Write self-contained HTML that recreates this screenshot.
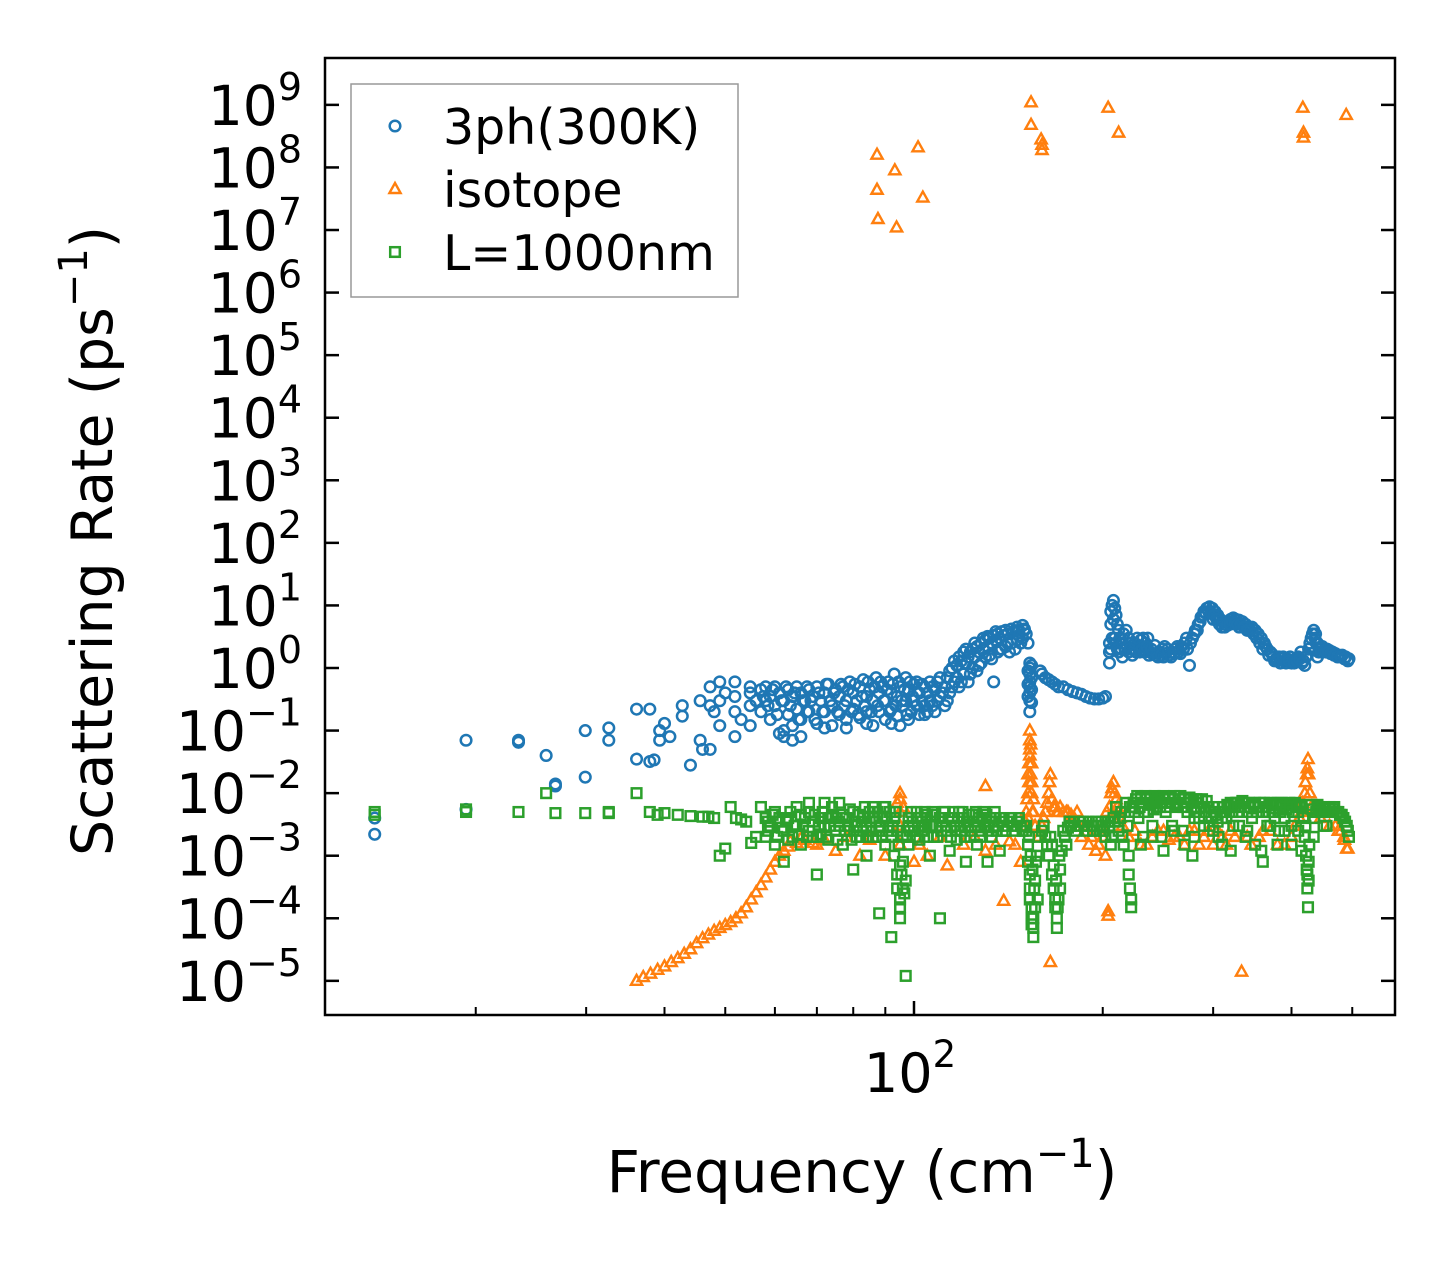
<!DOCTYPE html>
<html><head><meta charset="utf-8"><style>
html,body{margin:0;padding:0;background:#fff;}
svg{display:block;font-family:"DejaVu Sans","Liberation Sans",sans-serif;}
</style></head><body>
<svg id="chart" width="1455" height="1265" viewBox="0 0 1455 1265" xmlns="http://www.w3.org/2000/svg">
<rect width="1455" height="1265" fill="#fff"/>
<g id="marks"></g>
<g id="axes"></g>
<g id="legend"></g>
</svg>
<script>
const yTickExps = [9,8,7,6,5,4,3,2,1,0,-1,-2,-3,-4,-5];
const xMajorTicks = [100];
const xMinorTicks = [20,30,40,50,60,70,80,90,200,300,400,500];
const seriesNames = ["3ph(300K)","isotope","L=1000nm"];
const seriesColors = ["#1f77b4","#ff7f0e","#2ca02c"];

const pts3ph = [[13.8,4e-3],[13.8,2.2e-3],[19.3,7e-2],[19.3,5.5e-3],[23.4,6.5e-2],[23.4,7e-2],[25.9,4e-2],[26.8,1.4e-2],[26.8,1.3e-2],[29.9,0.1],[29.9,1.8e-2],[32.6,0.07],[32.6,0.11],[36.1,3.5e-2],[36.1,0.22],[37.9,3.2e-2],[37.9,0.22],[38.5,3.4e-2],[39.3,0.1],[39.3,0.07],[40,0.13],[40.8,0.08],[42.7,0.17],[42.7,0.25],[44,2.8e-2],[45.6,0.07],[45.6,0.3],[46,0.05],[47.3,0.5],[47.3,0.25],[47.3,0.05],[48,0.2],[49,0.6],[49,0.3],[49,0.12],[50,0.4],[51.8,0.6],[51.8,0.2],[51.8,0.08],[51.8,0.35],[53,0.15],[54.8,0.4],[54.8,0.5],[54.8,0.12],[54.8,0.25],[56,0.3],
[57,0.45],[57,0.2],[58,0.5],[58,0.3],[59,0.35],[59,0.15],[60,0.5],[60,0.25],[61,0.4],[61,0.09],[62,0.3],[62,0.08],[63,0.45],[63,0.18],[64,0.35],[64,0.12],[64,0.07],[65,0.5],[65,0.22],[66,0.4],[66,0.15],[66,0.08],[67,0.3],[68,0.45],[68,0.2],[69,0.35],[70,0.5],[70,0.13],[71,0.3],[72,0.4],[72,0.2],[73,0.55],[74,0.25],[74,0.12],[75,0.45],[76,0.35],[76,0.18],[77,0.5],[78,0.3],[78,0.15],[79,0.6],[80,0.4],[80,0.22],[81,0.3],[82,0.5],[82,0.16],[83,0.65],[84,0.35],[84,0.2],[85,0.45],[86,0.3],[86,0.12],[87,0.7],[88,0.4],[88,0.2],[89,0.5],[90,0.3],[90,0.15],[91,0.6],[92,0.4],[92,0.22],[93,0.8],[94,0.35],[94,0.17],[95,0.5],[95,0.12],[96,0.25],[97,0.7],[97,0.3],[98,0.45],[99,0.2],[100,0.55],[100,0.3],[102,0.4],[102,0.18],[104,0.5],[104,0.25],[106,0.6],[106,0.3],[108,0.45],[108,0.2],[110,0.7],[110,0.35],[112,0.5],[112,0.25],[114,0.9],[114,0.4],[116,1.3],[116,0.6],[118,1.5],[118,0.5],[120,1.8],[120,0.8],[122,1.5],[122,0.6],[124,2],[124,1],[126,2.2],[126,0.9],[128,2.5],[128,1.2],[130,2.8],[130,1.5],[132,3],[132,1.6],[134,3.3],[134,0.6],[136,3.5],[136,1.8],[138,3.8],[138,2],[140,4],[140,2.2],[143,4.2],[143,2.5],[146,4.5],[146,2.8],[149,4.8],[149,3],[151,3.5],[152,2.5],
[153,1.2],[153,1],[153,0.8],[153,0.6],[153,0.5],[153,0.4],[153,0.3],[153,0.2],[154,1.1],[154,0.7],[154,0.45],[154,0.28],[152,0.9],[152,0.55],[152,0.35],
[159,0.9],[160,0.8],[162,0.7],[164,0.65],[166,0.6],[168,0.55],[170,0.5],[173,0.5],[176,0.45],[179,0.42],[182,0.4],[185,0.38],[188,0.35],[191,0.33],[194,0.32],[197,0.32],[200,0.33],[202,0.35],
[205,1.8],[205,1.2],[205,2.5],[206,5],[206,8],[207,10],[208,12],[209,9],[210,7],[211,5],[212,4],[213,3],[214,2],[215,1.5],[216,3.5],[218,4],[220,3],[220,1.8],[222,2.5],[224,2],[226,1.8],[228,2.2],[230,2.8],[232,3],[234,2.5],[236,2],[236,3],[238,1.8],[240,1.7],[243,1.6],[246,1.8],[249,2],[250,1.5],[252,1.7],[255,1.6],[258,1.8],[261,2],[264,1.8],[267,2.2],[270,2.5],[273,2],[275,1.1],[278,3],[281,4],[284,5],[287,6.5],[290,8],[293,9],[296,9.5],[299,9],[300,6],[302,8],[305,7],[308,6],[311,5.5],[314,5],[317,5.5],[320,6],[323,6.3],[326,6],[330,5.8],[330,4.5],[334,5.5],[338,5],[342,4.5],[346,4.5],[350,4],[354,3.5],[358,3],[360,2],[362,2.5],[366,2],[370,1.8],[374,1.5],[378,1.4],[382,1.5],[386,1.4],[390,1.3],[394,1.4],[398,1.5],[400,1.2],[402,1.3],[406,1.4],[410,1.5],[414,1.8],[418,1.3],[420,1.1],[422,1.5],[426,2],[430,3],[434,4],[437,3.5],[440,2.5],[440,1.5],[444,2],[448,2.2],[452,2],[456,2],[460,1.9],[465,1.8],[470,1.7],[476,1.6],[482,1.6],[488,1.5],[494,1.4]];

const pts3phDense = [[57.5,0.35],[58.5,0.25],[59.5,0.45],[60.5,0.18],[61.5,0.3],[62.5,0.5],[63.5,0.25],[64.5,0.4],[65.5,0.15],[66.5,0.3],[67.5,0.5],[67.5,0.2],[68.5,0.3],[69.5,0.15],[70.5,0.4],[71.5,0.2],[72.5,0.55],[73.5,0.3],[74.5,0.4],[75.5,0.2],[76.5,0.55],[77.5,0.25],[78.5,0.45],[79.5,0.2],[80.5,0.55],[81.5,0.18],[82.5,0.35],[83.5,0.25],[84.5,0.6],[85.5,0.2],[86.5,0.5],[87.5,0.25],[88.5,0.6],[89.5,0.3],[90.5,0.45],[91.5,0.2],[92.5,0.55],[93.5,0.25],[94.5,0.6],[95.5,0.3],[96.5,0.45],[97.5,0.18],[98.5,0.6],[99.5,0.35],[101,0.25],[101,0.6],[103,0.3],[103,0.55],[105,0.4],[105,0.2],[107,0.5],[107,0.25],[109,0.6],[109,0.3],[111,0.4],[113,0.7],[113,0.3],[115,1],[115,0.5],[117,1.1],[117,0.7],[119,1.3],[119,0.6],[121,1.2],[121,2],[123,1.8],[123,0.8],[125,1.5],[125,2.5],[127,1.8],[127,1.1],[129,2],[129,3],[131,2.2],[131,3.2],[133,2.5],[133,1.4],[135,2.8],[135,3.8],[137,3],[137,2],[139,3.3],[141,3.5],[141,2.5],[144,3.8],[147,4],[147,3.3],[150,4.2],[150,4],[148,2.5],[145,2],[142,1.8],
[62,0.1],[72,0.11],[78,0.11],[84,0.13],[92,0.13],[98,0.15],[104,0.18],
[206,2],[207,3],[208,6],[209,3],[210,2.5],[211,2],[212,1.8],[215,2.5],[217,2],[219,2.2],[221,2],[223,1.6],[225,2.5],[227,3],[229,1.8],[231,2],[233,1.8],[235,2.2],[237,1.6],[239,2],[242,2.3],[245,1.5],[248,1.6],[251,2.2],[254,2],[257,1.5],[260,1.7],[263,2.2],[266,1.7],[269,2],[272,3],[276,2.5],[280,3.5],[283,4],[286,5.5],[289,7],[292,7.5],[295,8],[298,7.5],[301,7],[304,6],[307,5],[310,4.5],[313,4.5],[316,4.8],[319,5],[322,5.5],[325,5.2],[328,5],[332,5],[336,4.5],[340,4],[344,4],[348,3.5],[352,3],[356,2.5],[364,2.2],[368,1.6],[372,1.7],[376,1.3],[380,1.3],[384,1.2],[388,1.5],[392,1.2],[396,1.3],[404,1.2],[408,1.3],[412,1.4],[416,1.2],[424,1.6],[428,2.5],[432,3.5],[436,3],[438,2.5],[442,1.8],[446,1.8],[450,1.9],[454,1.8],[458,1.8],[462,1.7],[468,1.6],[474,1.5],[480,1.5],[486,1.4],[492,1.3]];

const ptsIso = [[87.3,1.6e8],[87.3,4.4e7],[87.6,1.5e7],[93.2,9e7],[93.8,1.1e7],[101.5,2.1e8],[103.3,3.3e7],[153.7,1.1e9],[153.7,4.8e8],[159.5,2.8e8],[160,1.9e8],[160,2.3e8],[204,9e8],[212,3.6e8],[417,9e8],[418,3.6e8],[418,3e8],[489,6.9e8],
[36.1,1e-5],[37,1.15e-5],[38,1.3e-5],[39,1.5e-5],[40,1.7e-5],[41,2e-5],[42,2.3e-5],[43,2.7e-5],[44,3.2e-5],[45,4e-5],[46,4.8e-5],[47,5.5e-5],[48,6.3e-5],[49,7e-5],[50,7.8e-5],[51,8.7e-5],[52,1e-4],[53,1.2e-4],[54,1.5e-4],[55,2e-4],[56,2.6e-4],[57,3.4e-4],[58,4.5e-4],[59,6e-4],[60,8e-4],[61,1e-3],[62,1.2e-3],[63,1.4e-3],[65,1.6e-3],[67,1.8e-3],
[70,1.5e-3],[75,1.2e-3],[82,1e-3],[90,1e-3],[95,3e-3],[95,5e-3],[95,8e-3],[95,1e-2],[100,8e-4],[105,1e-3],[113,7e-4],[120,1.5e-3],[130,1.2e-3],[130,1.3e-2],[139,1.9e-4],[145,1.5e-3],[148,8e-4],
[150,3e-3],[151,5e-3],[152,1e-2],[152,2e-2],[153,4e-2],[153,7e-2],[153,0.1],[154,3e-2],[154,1.5e-2],[155,8e-3],[155,5e-3],[156,3e-3],[158,2e-3],[160,3e-3],[162,5e-3],[164,1e-2],[165,2e-2],[165,2e-5],[166,8e-3],[168,6e-3],[170,5e-3],[173,5e-3],[176,5e-3],[180,4e-3],[185,2e-3],[190,1.5e-3],[195,1.2e-3],[200,2e-3],[203,5e-3],[204,1.3e-4],[204,1.1e-4],[206,1e-2],[208,1.5e-2],[210,8e-3],[212,5e-3],[215,3e-3],[220,2e-3],[230,1.5e-3],[240,2e-3],[250,2.5e-3],[260,2e-3],[270,1.5e-3],[280,2.5e-3],[290,2e-3],[300,1.5e-3],[310,2e-3],[320,2.5e-3],[333,1.4e-5],[340,2e-3],[360,2.5e-3],[380,1.5e-3],[400,2e-3],[415,5e-3],[420,1e-2],[423,2e-2],[425,3.5e-2],[428,1e-2],[440,5e-3],[460,3e-3],[475,2.5e-3],[485,2e-3],[490,1.3e-3]];

const ptsIsoDense = [[151.5,8e-3],[152.5,1.5e-2],[152.5,3e-2],[153,5e-2],[153.5,2e-2],[153.5,6e-2],[154,1e-2],[154.5,5e-3],[152,4e-3],[150.5,3.5e-3],[161,4e-3],[163,7e-3],[164.5,1.5e-2],[167,6e-3],[169,5e-3],[171,6e-3],[175,5e-3],[178,4.5e-3],[182,5e-3],[187,3e-3],[192,2e-3],[197,1.5e-3],[200,3e-3],[202,1e-3],[205,6e-3],[207,1.2e-2],[209,1e-2],[211,6e-3],[213,4e-3],[225,2.5e-3],[235,1.5e-3],[245,2.5e-3],[255,1.8e-3],[265,2e-3],[275,2.5e-3],[285,1.5e-3],[295,2.5e-3],[305,2.5e-3],[315,1.5e-3],[325,2e-3],[345,1.5e-3],[355,2e-3],[370,2.5e-3],[390,1.5e-3],[405,3e-3],[412,4e-3],[417,7e-3],[421,1.5e-2],[424,2.5e-2],[426,2e-2],[430,6e-3],[445,4e-3],[470,3e-3],[480,2.5e-3],[486,1.8e-3],[492,1.3e-3],[63.5,1.7e-3],[66,1.9e-3],[69,1.6e-3],[72,1.8e-3],[78,2e-3],[85,1.8e-3],[95,1.5e-3],[94,7e-3],[96,6e-3],[102,1.5e-3],[110,2e-3],[125,2e-3],[135,1.5e-3],[142,1.7e-3]];

const ptsL = [[13.8,5e-3],[13.8,4.5e-3],[19.3,5.5e-3],[19.3,5e-3],[23.4,5e-3],[25.9,1e-2],[26.8,4.8e-3],[29.9,4.8e-3],[32.6,5e-3],[32.6,4.8e-3],[36.1,1e-2],[37.9,5e-3],[39,4.5e-3],[40,4.8e-3],[42,4.5e-3],[44,4.3e-3],[46,4.2e-3],[47,4.2e-3],[48,4e-3],[49,1e-3],[50,1.3e-3],[51,6e-3],[52,4e-3],[53,3.8e-3],[54,3.5e-3],[55,1.6e-3],[56,2e-3],[57,6e-3],
[58,4e-3],[58,2e-3],[59,3e-3],[60,5e-3],[60,1.5e-3],[61,3.5e-3],[62,2.5e-3],[62,8e-4],[63,4e-3],[64,2e-3],[65,3e-3],[65,6e-3],[66,1.5e-3],[67,4e-3],[68,2.5e-3],[68,7e-3],[69,3.5e-3],[70,2e-3],[70,5e-4],[71,4e-3],[72,3e-3],[72,7e-3],[73,1.8e-3],[74,4.5e-3],[75,2.5e-3],[76,3.5e-3],[76,7e-3],[77,1.5e-3],[78,4e-3],[79,2.5e-3],[80,5e-3],[80,6e-4],[81,3e-3],[82,2e-3],[83,4e-3],[84,3e-3],[84,1e-3],[85,5e-3],[86,2e-3],[86,6e-3],[87,3.5e-3],[88,2.5e-3],[88,1.2e-4],[89,4e-3],[90,1.5e-3],[90,6e-3],[91,3e-3],[92,2e-3],[92,5e-5],[93,4e-3],[93,1e-3],[94,5e-4],[94,3e-4],[95,2e-4],[95,1.5e-4],[95,1e-4],[96,2e-3],[96,8e-4],[97,1.2e-5],[97,4e-4],[98,3e-3],[98,1.5e-3],[99,5e-3],[100,2.5e-3],[101,4e-3],[102,1.8e-3],[103,3.5e-3],[104,5e-3],[105,2e-3],[106,1e-3],[107,3e-3],[108,4.5e-3],[109,2e-3],[110,1e-4],[111,3.5e-3],[112,5e-3],[113,2.5e-3],[114,1.2e-3],[115,4e-3],[116,3e-3],[117,1.8e-3],[118,5e-3],[119,2.5e-3],[120,4e-3],[121,8e-4],[122,3e-3],[123,2e-3],[124,4.5e-3],[125,3e-3],[126,1.5e-3],[127,4e-3],[128,2.5e-3],[129,5e-3],[130,3e-3],[131,8e-4],[132,3.5e-3],[133,2e-3],[135,4e-3],[136,3e-3],[137,1.2e-3],[138,3.5e-3],[140,2.5e-3],[142,3.5e-3],[144,3e-3],[146,3.5e-3],[148,3e-3],[150,3e-3],[151,2.5e-3],
[152,1.5e-3],[152,8e-4],[153,5e-4],[153,3e-4],[153,2e-4],[154,1.5e-4],[154,1e-4],[155,7e-5],[155,5e-5],[156,1.5e-4],[156,4e-4],[157,1e-3],[158,2e-3],[160,2.5e-3],[162,2e-3],[164,1e-3],[166,5e-4],[167,3e-4],[168,1.5e-4],[169,1e-4],[169,7e-5],[170,2e-4],[171,6e-4],[172,1.2e-3],[174,2e-3],[176,2.8e-3],[178,3e-3],[180,3.5e-3],[183,3e-3],[186,3.5e-3],[189,2.5e-3],[192,3e-3],[195,3.5e-3],[198,2.5e-3],[200,3e-3],[202,2e-3],[204,3.5e-3],[206,1.5e-3],[208,4e-3],[210,6e-3],[212,2.5e-3],[214,5e-3],[216,1.5e-3],[218,7e-3],[220,1e-3],[220,5e-4],[221,3e-4],[222,1.5e-4],[222,2e-4],[224,7e-3],[226,8e-3],[228,4e-3],[230,8.5e-3],[232,2e-3],[234,9e-3],[236,5e-3],[238,8.5e-3],[240,3e-3],[242,9e-3],[244,6e-3],[246,8.5e-3],[248,2e-3],[250,9e-3],[252,5e-3],[255,8.5e-3],[258,3e-3],[260,9e-3],[262,6e-3],[265,8e-3],[268,2.5e-3],[270,8.5e-3],[273,5e-3],[276,8e-3],[278,1e-3],[280,2e-3],[282,8e-3],[285,4e-3],[288,8e-3],[290,6e-3],[293,7.5e-3],[296,3e-3],[300,6e-3],[303,4.5e-3],[306,2e-3],[310,4e-3],[313,5e-3],[316,6.5e-3],[320,7e-3],[323,3e-3],[326,7e-3],[330,5e-3],[334,7.5e-3],[338,2e-3],[342,7e-3],[346,4e-3],[350,7e-3],[354,6e-3],[358,1.2e-3],[362,7e-3],[366,3e-3],[370,7e-3],[374,5e-3],[378,6.5e-3],[382,2.5e-3],[386,7e-3],[390,4e-3],[395,6.5e-3],[400,3e-3],[405,7e-3],[410,5e-3],[415,6e-3],[420,2e-3],[422,1e-3],[423,6e-4],[424,3e-4],[425,1.5e-4],[426,4e-4],[427,1.5e-3],[430,6.5e-3],[435,4e-3],[440,6.5e-3],[445,5e-3],[450,6e-3],[455,3e-3],[460,6e-3],[466,5.5e-3],[472,5e-3],[478,4.5e-3],[484,4e-3],[490,3e-3],[494,2e-3]];

const ptsLDense = [[58.5,3.5e-3],[58.5,2.5e-3],[59.5,4.5e-3],[60.5,2e-3],[61,4e-3],[61.5,2.8e-3],[62.5,3.8e-3],[63,1.8e-3],[63.5,5e-3],[64.5,3e-3],[65.5,2.2e-3],[66,4.5e-3],[66.5,3e-3],[67.5,2e-3],[68,5e-3],[69,2e-3],[69.5,4.5e-3],[70.5,3e-3],[71,2.2e-3],[71.5,5e-3],[72.5,2e-3],[73,4e-3],[73.5,3e-3],[74,6e-3],[75,4e-3],[75.5,1.8e-3],[76,3e-3],[77,4.5e-3],[77.5,2.5e-3],[78.5,3e-3],[79,5.5e-3],[79.5,1.8e-3],[80.5,3.5e-3],[81,2e-3],[81.5,4.5e-3],[82.5,3.5e-3],[83,2.5e-3],[83.5,6e-3],[84.5,2e-3],[85,3.5e-3],[85.5,2.5e-3],[86.5,4e-3],[87,2e-3],[87.5,5e-3],[88.5,3e-3],[89,2e-3],[89.5,6e-3],[90.5,4e-3],[91,2.5e-3],[91.5,5e-3],[92.5,3e-3],[93.5,5e-3],[94,2.5e-3],[94.5,1.5e-3],[95,7e-4],[95.5,5e-4],[96,3e-4],[96.5,2.5e-4],[97.5,2e-3],[98,4e-3],[98.5,2.5e-3],[99.5,3.5e-3],[100.5,2e-3],[101,5e-3],[101.5,3e-3],[102.5,4e-3],[103,2.5e-3],[104,3e-3],[105,4.5e-3],[106,3e-3],[107,5e-3],[107.5,2e-3],[108.5,3e-3],[110,4e-3],[110.5,2.5e-3],[111.5,5e-3],[112.5,3e-3],[113.5,4e-3],[114.5,2e-3],[115.5,5e-3],[116.5,2.5e-3],[117.5,4e-3],[118.5,3e-3],[119.5,5e-3],[120.5,2e-3],[121.5,3.5e-3],[122.5,4.5e-3],[123.5,2.5e-3],[124.5,3.5e-3],[125.5,5e-3],[126.5,3e-3],[127.5,2e-3],[128.5,4e-3],[129.5,3e-3],[130.5,4.5e-3],[131.5,2.5e-3],[132.5,4e-3],[134,3e-3],[134.5,5e-3],[135.5,2.5e-3],[137,4e-3],[138.5,2.5e-3],[139,4e-3],[141,3e-3],[143,4e-3],[145,2.5e-3],[147,4e-3],[149,2.5e-3],[151,3e-3],
[223,6e-3],[225,5e-3],[227,9e-3],[229,6e-3],[231,7e-3],[233,5e-3],[235,8e-3],[237,6.5e-3],[239,7e-3],[241,5.5e-3],[243,7.5e-3],[245,8e-3],[247,6e-3],[249,7e-3],[251,8e-3],[253,6e-3],[256,7e-3],[259,8e-3],[261,6.5e-3],[263,7e-3],[266,9e-3],[269,6e-3],[272,7e-3],[275,8.5e-3],[277,6e-3],[279,7.5e-3],[281,5e-3],[284,7e-3],[287,6e-3],[292,5e-3],[295,6e-3],[298,4e-3],[301,5e-3],[305,3.5e-3],[308,5e-3],[312,6e-3],[315,4e-3],[318,6e-3],[322,5e-3],[325,6e-3],[328,7e-3],[332,6e-3],[336,7e-3],[340,5e-3],[344,6e-3],[348,6.5e-3],[352,5e-3],[356,7e-3],[360,5e-3],[364,6e-3],[368,5e-3],[372,6.5e-3],[376,4e-3],[380,7e-3],[384,5e-3],[388,6e-3],[392,5.5e-3],[397,7e-3],[402,5e-3],[408,6e-3],[412,6.5e-3],[418,4e-3],[432,5.5e-3],[438,5e-3],[442,6e-3],[448,5e-3],[452,5.5e-3],[458,5e-3],[463,5e-3],[468,6e-3],[475,5e-3],[481,4.5e-3],[487,3.5e-3],[492,2.5e-3],
[230,1.5e-3],[240,2e-3],[250,1.2e-3],[260,2.5e-3],[270,1.5e-3],[280,4e-3],[290,3e-3],[300,2.5e-3],[310,1.5e-3],[320,1.2e-3],[330,3e-3],[340,2.5e-3],[350,1.5e-3],[360,8e-4],[370,3e-3],[380,1.5e-3],[390,2.5e-3],[400,1.5e-3],[410,2.5e-3],[415,1.2e-3],[421,3e-3],[424,5e-4],[426,8e-4],[434,2e-3],[450,3e-3],
[161,3e-3],[163,1.5e-3],[173,2.5e-3],[175,1.5e-3],[177,3.5e-3],[181,2.5e-3],[184,3.5e-3],[187,3e-3],[190,3.5e-3],[193,2.5e-3],[196,3e-3],[199,3.5e-3],[201,2.5e-3],[205,3e-3],[207,2e-3],[209,3.5e-3],[213,4e-3],[215,2e-3],[217,5e-3],[219,3e-3],[221,6e-3],
[152.5,2e-3],[153.5,1e-3],[154.5,6e-4],[155.5,3e-4],[156.5,8e-4],[157.5,2e-4],[155,1e-4],[154,8e-5],[168,2e-4],[168.5,4e-4],[169.5,1.5e-4],[170.5,1e-3],[171,3e-4],[167,7e-4],[166,1.5e-3],[165,2e-3]];

const X0 = 914, XDEC = 627, Y0 = 668, YDEC = 62.57;
const L = 325, R = 1395, T = 58, B = 1015;
function xScale(f){ return X0 + XDEC*(Math.log10(f)-2); }
function yScale(r){ return Y0 - YDEC*Math.log10(r); }
const NS = "http://www.w3.org/2000/svg";
function mk(tag, attrs, parent){ const e=document.createElementNS(NS,tag); for(const k in attrs) e.setAttribute(k,attrs[k]); parent.appendChild(e); return e; }

const marks = document.getElementById('marks');
function marker(kind, cx, cy, color, parent){
  let e;
  if(kind==='circle'){ e = mk('circle',{cx:cx,cy:cy,r:5.3,fill:'none',stroke:color,'stroke-width':2.5},parent); }
  else if(kind==='tri'){ e = mk('path',{d:`M${cx},${cy-6} L${cx+5.6},${cy+4} L${cx-5.6},${cy+4} Z`,fill:'none',stroke:color,'stroke-width':2.4},parent); }
  else { e = mk('rect',{x:cx-4.8,y:cy-4.8,width:9.6,height:9.6,fill:'none',stroke:color,'stroke-width':2.5},parent); }
  return e;
}
const gB = mk('g',{},marks);


const gI = mk('g',{},marks);


const gL = mk('g',{},marks);


pts3ph.concat(pts3phDense).forEach(p=>{ const e=marker('circle',xScale(p[0]),yScale(p[1]),seriesColors[0],gB);
  
   });
ptsIso.concat(ptsIsoDense).forEach(p=>{ const e=marker('tri',xScale(p[0]),yScale(p[1]),seriesColors[1],gI);
  
   });
ptsL.concat(ptsLDense).forEach(p=>{ const e=marker('sq',xScale(p[0]),yScale(p[1]),seriesColors[2],gL);
  
   });

const axes = document.getElementById('axes');
const frame = mk('rect',{x:L,y:T,width:R-L,height:B-T,fill:'none',stroke:'#000','stroke-width':2.5},axes);


yTickExps.forEach(ex=>{
  const y = yScale(Math.pow(10,ex));
  mk('line',{x1:L,x2:L+14,y1:y,y2:y,stroke:'#000','stroke-width':2.5},axes);
  mk('line',{x1:R,x2:R-14,y1:y,y2:y,stroke:'#000','stroke-width':2.5},axes);
  const t = mk('text',{x:302,y:y+20,'text-anchor':'end','font-size':55,fill:'#000'},axes);
  
  
  t.innerHTML = `10<tspan dy="-25" font-size="38">${ex<0?'\u2212'+(-ex):ex}</tspan>`;
});
xMajorTicks.forEach(f=>{
  const x = xScale(f);
  mk('line',{x1:x,x2:x,y1:B,y2:B-14,stroke:'#000','stroke-width':2.5},axes);
  const t = mk('text',{x:x-4,y:1092,'text-anchor':'middle','font-size':54,fill:'#000'},axes);
  
  
  t.innerHTML = `10<tspan dy="-25" font-size="37">2</tspan>`;
});
xMinorTicks.forEach(f=>{
  const x = xScale(f);
  if(x<L||x>R) return;
  mk('line',{x1:x,x2:x,y1:B,y2:B-8,stroke:'#000','stroke-width':2},axes);
});
const xt = mk('text',{x:862,y:1192,'text-anchor':'middle','font-size':58,fill:'#000'},axes);


xt.innerHTML = 'Frequency (cm<tspan dy="-25" font-size="40">\u22121</tspan><tspan dy="25">)</tspan>';
const yt = mk('text',{x:0,y:0,'text-anchor':'middle','font-size':57,fill:'#000',transform:'translate(112,541) rotate(-90)'},axes);


yt.innerHTML = 'Scattering Rate (ps<tspan dy="-25" font-size="40">\u22121</tspan><tspan dy="25">)</tspan>';

const lg = document.getElementById('legend');
const box = mk('rect',{x:351,y:84,width:387,height:213,fill:'#fff',stroke:'#999','stroke-width':1.5},lg);


const kinds = ['circle','tri','sq'];
seriesNames.forEach((n,i)=>{
  const y = 126 + i*63;
  const g = mk('g',{},lg);
  
  
  marker(kinds[i],395,y,seriesColors[i],g);
  const t = mk('text',{x:443,y:y+18,'font-size':49,fill:'#000'},g);
  t.textContent = n;
});
</script>
</body></html>
